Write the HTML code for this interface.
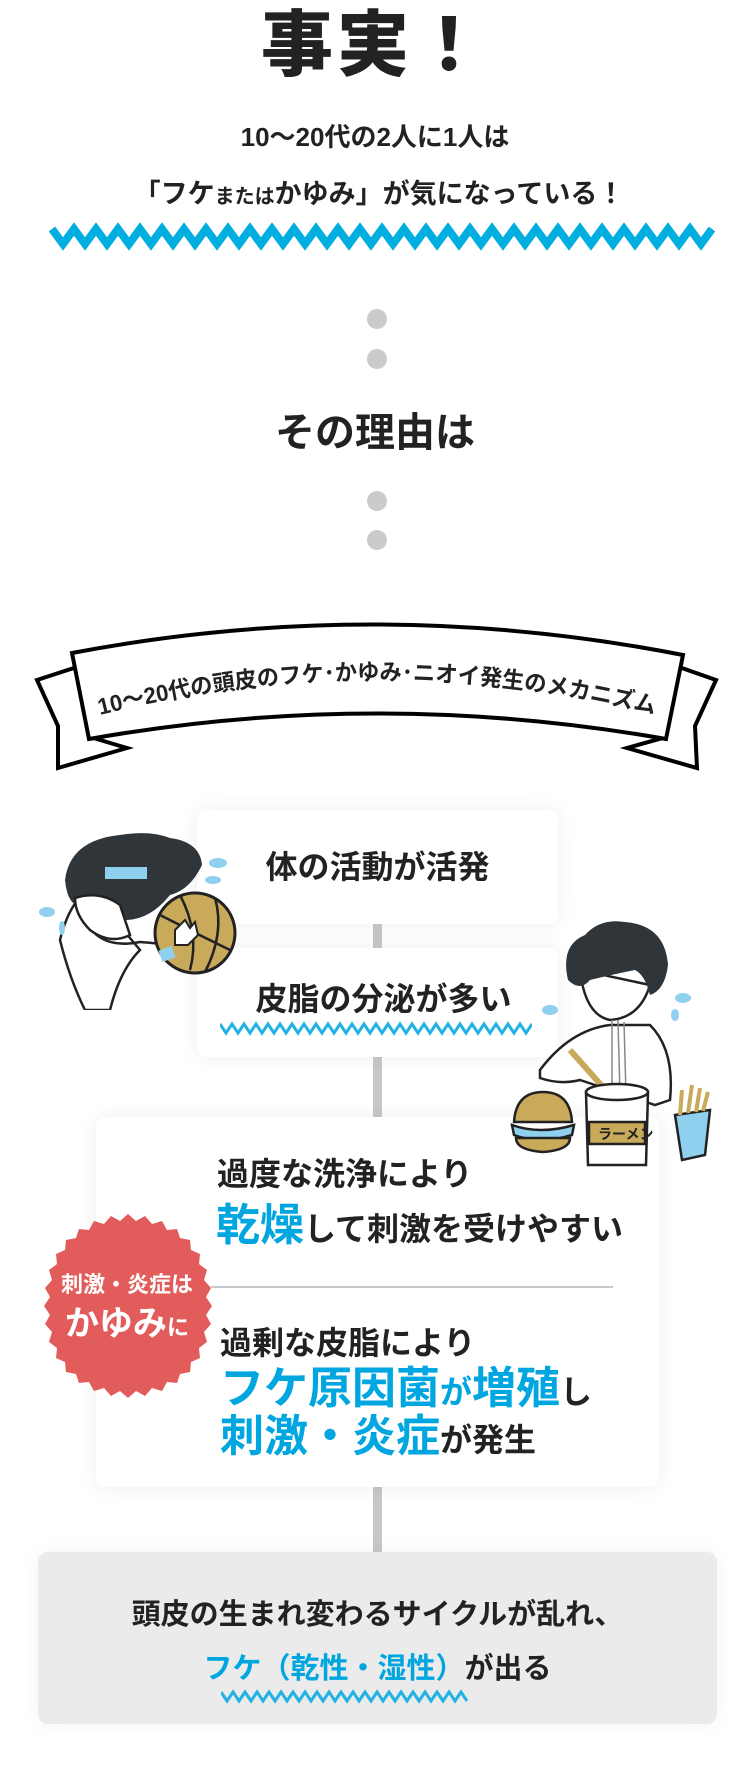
<!DOCTYPE html>
<html><head><meta charset="utf-8"><style>
*{margin:0;padding:0;box-sizing:border-box}
body{width:750px;height:1771px;background:#fff;position:relative;overflow:hidden;font-family:"Liberation Sans","Noto Sans CJK JP",sans-serif;color:#222;font-weight:bold}
.a{position:absolute}
.c{text-align:center;white-space:nowrap}
.box{position:absolute;background:#fff;border-radius:10px;box-shadow:0 0 22px rgba(0,0,0,0.07)}
.b{color:#00a6df}
.dot{position:absolute;left:367px;width:20px;height:20px;border-radius:50%;background:#cbcbcb}
.line{position:absolute;left:373px;width:9px;background:#c8c8c8}
</style></head><body>
<div class="a c" style="left:0;width:750px;top:6px;font-size:72px;line-height:80px;font-weight:900;letter-spacing:4px">事実！</div>
<div class="a c" style="left:0;width:750px;top:121px;font-size:26px;line-height:32px">10〜20代の2人に1人は</div>
<div class="a c" style="left:0;width:758px;top:177px;font-size:27px;line-height:34px">「フケ<span style="font-size:20px">または</span>かゆみ」が気になっている！</div>
<svg class="a" style="left:0;top:0" width="750" height="260"><polyline fill="none" stroke="#00aee0" stroke-width="8" stroke-linejoin="miter" points="52,229 63,244 74,229 85,244 96,229 107,244 118,229 129,244 140,229 151,244 162,229 173,244 184,229 195,244 206,229 217,244 228,229 239,244 250,229 261,244 272,229 283,244 294,229 305,244 316,229 327,244 338,229 349,244 360,229 371,244 382,229 393,244 404,229 415,244 426,229 437,244 448,229 459,244 470,229 481,244 492,229 503,244 514,229 525,244 536,229 547,244 558,229 569,244 580,229 591,244 602,229 613,244 624,229 635,244 646,229 657,244 668,229 679,244 690,229 701,244 712,229"/></svg>
<div class="dot" style="top:309px"></div><div class="dot" style="top:349px"></div>
<div class="a c" style="left:0;width:750px;top:410px;font-size:40px;line-height:46px">その理由は</div>
<div class="dot" style="top:491px"></div><div class="dot" style="top:530px"></div>

<svg class="a" style="left:0;top:600px" width="750" height="190" viewBox="0 600 750 190">
<g fill="#fff" stroke="#000" stroke-width="4" stroke-linejoin="miter">
<polygon points="37,680 80,666 90,737 127,748 58,768 58,726"/>
<polygon points="716,680 676,666 666,737 627,748 697,768 695,726"/>
<path d="M72,653 Q377,595 683,655 L666,739 Q377,688 89,739 Z"/>
</g>
<defs><path id="arc" d="M96,716 Q377,644 662,716"/></defs>
<text font-size="23" font-weight="bold" fill="#222" font-family="Liberation Sans,Noto Sans CJK JP,sans-serif"><textPath href="#arc" startOffset="4" textLength="560" lengthAdjust="spacingAndGlyphs">10〜20代の頭皮のフケ･かゆみ･ニオイ発生のメカニズム</textPath></text>
</svg>

<div class="line" style="top:920px;height:35px"></div>
<div class="line" style="top:1055px;height:65px"></div>
<div class="line" style="top:1485px;height:70px"></div>

<div class="box" style="left:197px;top:810px;width:361px;height:114px"></div>
<div class="a c" style="left:197px;width:361px;top:848px;font-size:32px;line-height:38px">体の活動が活発</div>
<div class="box" style="left:197px;top:948px;width:361px;height:109px"></div>
<div class="a c" style="left:203px;width:361px;top:980px;font-size:32px;line-height:38px">皮脂の分泌が多い</div>
<svg class="a" style="left:220px;top:1020px" width="312" height="18"><polyline fill="none" stroke="#22b2e4" stroke-width="3" points="0,4 6,13 12,4 18,13 24,4 30,13 36,4 42,13 48,4 54,13 60,4 66,13 72,4 78,13 84,4 90,13 96,4 102,13 108,4 114,13 120,4 126,13 132,4 138,13 144,4 150,13 156,4 162,13 168,4 174,13 180,4 186,13 192,4 198,13 204,4 210,13 216,4 222,13 228,4 234,13 240,4 246,13 252,4 258,13 264,4 270,13 276,4 282,13 288,4 294,13 300,4 306,13 312,4"/></svg>

<div class="box" style="left:96px;top:1117px;width:563px;height:370px"></div>
<div class="a" style="left:217px;top:1155px;font-size:32px;line-height:38px;white-space:nowrap">過度な洗浄により</div>
<div class="a" style="left:216px;top:1202px;font-size:32px;line-height:48px;white-space:nowrap"><span class="b" style="font-size:44px">乾燥</span>して刺激を受けやすい</div>
<div class="a" style="left:211px;top:1286px;width:402px;height:2px;background:#c8c8c8"></div>
<div class="a" style="left:220px;top:1324px;font-size:32px;line-height:38px;white-space:nowrap">過剰な皮脂により</div>
<div class="a" style="left:220px;top:1365px;font-size:32px;line-height:48px;white-space:nowrap"><span class="b" style="font-size:44px">フケ原因菌</span><span class="b">が</span><span class="b" style="font-size:44px">増殖</span>し</div>
<div class="a" style="left:220px;top:1413px;font-size:32px;line-height:48px;white-space:nowrap"><span class="b" style="font-size:44px">刺激・炎症</span>が発生</div>

<svg class="a" style="left:30px;top:1208px" width="196" height="196" viewBox="-98 -98 196 196">
<path fill="#e35c5c" d="M0,-92 L8,-85 17,-90 24,-82 34,-85 39,-76 49,-77 52,-68 62,-66 63,-56 72,-52 71,-42 79,-36 76,-26 83,-18 78,-9 84,0 78,9 83,18 76,26 79,36 71,42 72,52 63,56 62,66 52,68 49,77 39,76 34,85 24,82 17,90 8,85 0,92 -8,85 -17,90 -24,82 -34,85 -39,76 -49,77 -52,68 -62,66 -63,56 -72,52 -71,42 -79,36 -76,26 -83,18 -78,9 -84,0 -78,-9 -83,-18 -76,-26 -79,-36 -71,-42 -72,-52 -63,-56 -62,-66 -52,-68 -49,-77 -39,-76 -34,-85 -24,-82 -17,-90 -8,-85 Z"/>
</svg>
<div class="a c" style="left:37px;width:180px;top:1271px;font-size:22px;line-height:28px;color:#fff">刺激・炎症は</div>
<div class="a c" style="left:37px;width:180px;top:1304px;font-size:34px;line-height:40px;color:#fff">かゆみ<span style="font-size:22px">に</span></div>

<div class="a" style="left:38px;top:1552px;width:679px;height:172px;background:#ebebeb;border-radius:10px;box-shadow:0 0 22px rgba(0,0,0,0.05)"></div>
<div class="a c" style="left:38px;width:679px;top:1597px;font-size:29px;line-height:36px">頭皮の生まれ変わるサイクルが乱れ、</div>
<div class="a c" style="left:38px;width:679px;top:1651px;font-size:29px;line-height:36px"><span class="b">フケ（乾性・湿性）</span>が出る</div>
<svg class="a" style="left:221px;top:1688px" width="250" height="18"><polyline fill="none" stroke="#22b2e4" stroke-width="3" points="0,4 6,13 12,4 18,13 24,4 30,13 36,4 42,13 48,4 54,13 60,4 66,13 72,4 78,13 84,4 90,13 96,4 102,13 108,4 114,13 120,4 126,13 132,4 138,13 144,4 150,13 156,4 162,13 168,4 174,13 180,4 186,13 192,4 198,13 204,4 210,13 216,4 222,13 228,4 234,13 240,4 246,13"/></svg>

<!-- girl -->
<svg class="a" style="left:30px;top:820px" width="220" height="190">
<g stroke="#222" stroke-width="2.5" fill="#fff">
<path d="M30,120 Q40,80 60,70 L110,130 Q90,150 80,190 L55,190 Q40,160 30,120Z"/>
<path d="M55,100 Q70,130 110,122 Q150,125 165,130" fill="none"/>
</g>
<path fill="#30353a" d="M35,60 Q40,20 90,15 Q120,10 140,18 Q170,22 172,45 Q160,70 140,75 Q120,100 95,100 Q80,75 55,85 Q38,90 35,60Z"/>
<path fill="#fff" stroke="#222" stroke-width="2.5" d="M45,78 Q70,70 90,85 L100,115 Q80,125 60,110 Q45,95 45,78Z"/>
<rect x="75" y="47" width="42" height="12" fill="#8fd0ee"/>
<circle cx="165" cy="113" r="40" fill="#c9a95a" stroke="#222" stroke-width="3"/>
<path d="M130,95 Q165,113 200,130 M150,75 Q170,113 160,150 M185,78 Q195,113 175,152" stroke="#222" stroke-width="2.5" fill="none"/>
<path fill="#fff" stroke="#222" stroke-width="2" d="M145,110 L155,100 160,108 165,102 168,115 158,125 145,125Z"/>
<rect x="130" y="128" width="14" height="12" fill="#8fd0ee" transform="rotate(-20 137 134)"/>
<g fill="#8fd0ee"><ellipse cx="188" cy="43" rx="9" ry="5"/><ellipse cx="183" cy="60" rx="8" ry="4"/><ellipse cx="17" cy="92" rx="8" ry="5"/><ellipse cx="32" cy="108" rx="3" ry="7"/></g>
</svg>

<!-- boy -->
<svg class="a" style="left:500px;top:910px" width="230" height="260">
<g stroke="#222" stroke-width="2.5" fill="#fff">
<path d="M40,160 Q70,120 110,115 L150,115 Q175,140 170,190 L155,195 L80,170 Q60,175 40,168Z"/>
<path d="M80,60 Q85,105 110,110 Q140,108 150,75 Z"/>
</g>
<path fill="#30353a" d="M68,70 Q60,35 85,25 Q100,8 125,12 Q165,15 168,55 Q165,80 150,85 Q145,65 135,60 Q110,65 90,70 Q80,82 68,70Z"/>
<path d="M112,110 L112,185 M118,110 L120,185 M124,112 L126,185" stroke="#888" stroke-width="1.5"/>
<path d="M70,140 L110,185" stroke="#c9a95a" stroke-width="6"/>
<g stroke="#222" stroke-width="2.5">
<path d="M86,182 L148,182 L146,255 L88,255Z" fill="#fff"/>
<ellipse cx="117" cy="182" rx="31" ry="8" fill="#fff"/>
<rect x="89" y="212" width="56" height="22" fill="#c9a95a"/>
<path d="M14,212 Q16,182 43,182 Q70,182 72,212Z" fill="#c9a95a"/>
<path d="M12,215 Q40,225 74,215 L72,225 Q40,235 14,225Z" fill="#8fd0ee"/>
<path d="M16,228 L70,228 Q70,240 43,242 Q16,240 16,228Z" fill="#c9a95a"/>
<path d="M175,205 L210,200 L205,245 L182,250Z" fill="#8fd0ee"/>
</g>
<path d="M180,205 L182,180 M188,203 L192,175 M196,202 L200,178 M203,201 L208,182" stroke="#c9a95a" stroke-width="4"/>
<text x="98" y="229" font-size="14" fill="#222">ラーメン</text>
<g fill="#8fd0ee"><ellipse cx="50" cy="100" rx="8" ry="5"/><ellipse cx="183" cy="88" rx="8" ry="5"/><ellipse cx="175" cy="105" rx="4" ry="6"/></g>
</svg>
</body></html>
